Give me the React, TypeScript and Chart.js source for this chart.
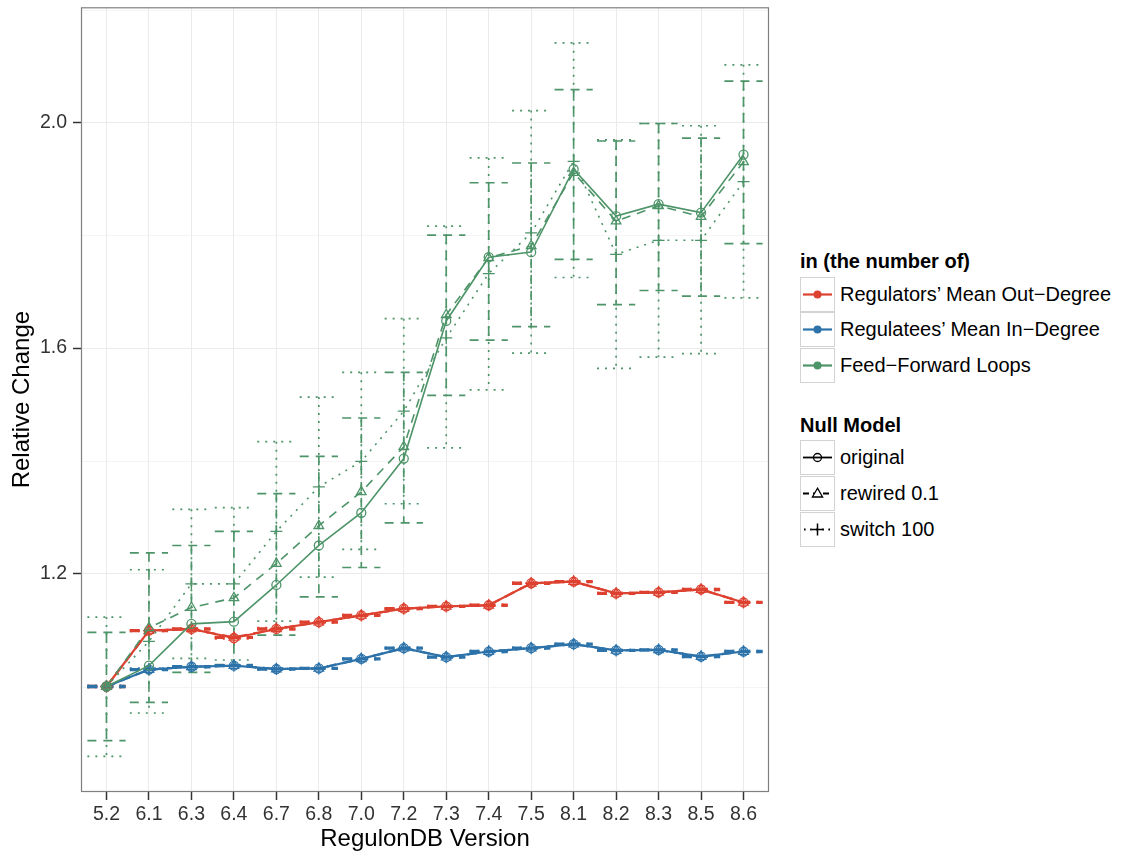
import React, { useEffect, useRef } from "react";
import { Chart, registerables } from "chart.js";

Chart.register(...registerables);

// ---------- data ----------
const versions = ["5.2", "6.1", "6.3", "6.4", "6.7", "6.8", "7.0", "7.2", "7.3", "7.4", "7.5", "8.1", "8.2", "8.3", "8.5", "8.6"];
const yMajorTicks = [1.2, 1.6, 2.0];
const yMinorTicks = [1.0, 1.4, 1.8, 2.2];

const regulatorsOriginal = [1.0, 1.099, 1.102, 1.086, 1.102, 1.114, 1.126, 1.138, 1.142, 1.144, 1.183, 1.186, 1.165, 1.167, 1.172, 1.149];
const regulatorsRewired = [1.0, 1.099, 1.102, 1.087, 1.102, 1.114, 1.126, 1.138, 1.142, 1.144, 1.183, 1.186, 1.165, 1.167, 1.172, 1.149];
const regulatorsSwitch = [1.0, 1.099, 1.102, 1.086, 1.103, 1.114, 1.126, 1.138, 1.142, 1.144, 1.183, 1.186, 1.165, 1.167, 1.172, 1.149];
const regulatorsRewiredErr = [0.001, 0.001, 0.001, 0.001, 0.001, 0.001, 0.001, 0.001, 0.001, 0.001, 0.001, 0.001, 0.001, 0.001, 0.001, 0.001];
const regulatorsSwitchErr = [0.001, 0.001, 0.001, 0.001, 0.001, 0.001, 0.001, 0.001, 0.001, 0.001, 0.001, 0.001, 0.001, 0.001, 0.001, 0.001];

const regulateesOriginal = [1.0, 1.030, 1.035, 1.037, 1.031, 1.032, 1.049, 1.068, 1.052, 1.062, 1.068, 1.075, 1.064, 1.065, 1.053, 1.062];
const regulateesRewired = [1.0, 1.030, 1.035, 1.037, 1.031, 1.032, 1.049, 1.068, 1.052, 1.062, 1.068, 1.075, 1.064, 1.065, 1.053, 1.062];
const regulateesSwitch = [1.0, 1.031, 1.035, 1.037, 1.031, 1.032, 1.049, 1.068, 1.052, 1.062, 1.068, 1.075, 1.064, 1.065, 1.053, 1.062];
const regulateesRewiredErr = [0.001, 0.001, 0.001, 0.001, 0.001, 0.001, 0.001, 0.001, 0.001, 0.001, 0.001, 0.001, 0.001, 0.001, 0.001, 0.001];
const regulateesSwitchErr = [0.001, 0.001, 0.001, 0.001, 0.001, 0.001, 0.001, 0.001, 0.001, 0.001, 0.001, 0.001, 0.001, 0.001, 0.001, 0.001];

const fflOriginal = [1.0, 1.037, 1.111, 1.115, 1.180, 1.250, 1.308, 1.404, 1.648, 1.761, 1.770, 1.917, 1.834, 1.855, 1.840, 1.943];
const fflRewired = [1.0, 1.104, 1.140, 1.157, 1.218, 1.285, 1.345, 1.425, 1.659, 1.760, 1.781, 1.911, 1.825, 1.852, 1.833, 1.930];
const fflSwitch = [1.0, 1.080, 1.182, 1.182, 1.275, 1.354, 1.399, 1.488, 1.618, 1.732, 1.804, 1.931, 1.766, 1.791, 1.791, 1.895];
const fflRewiredUpper = [1.096, 1.237, 1.250, 1.275, 1.342, 1.408, 1.476, 1.557, 1.800, 1.893, 1.928, 2.058, 1.967, 1.998, 1.972, 2.073];
const fflRewiredLower = [0.904, 0.972, 1.025, 1.039, 1.091, 1.159, 1.211, 1.290, 1.516, 1.614, 1.638, 1.757, 1.677, 1.702, 1.692, 1.785];
const fflSwitchUpper = [1.123, 1.207, 1.314, 1.317, 1.434, 1.513, 1.557, 1.652, 1.816, 1.937, 2.021, 2.141, 1.969, 1.998, 1.994, 2.102];
const fflSwitchLower = [0.876, 0.953, 1.050, 1.047, 1.116, 1.194, 1.243, 1.324, 1.423, 1.526, 1.591, 1.725, 1.564, 1.584, 1.590, 1.689];

const groupNames = ["Regulators’ Mean Out−Degree", "Regulatees’ Mean In−Degree", "Feed−Forward Loops"];
const modelNames = ["original", "rewired 0.1", "switch 100"];

// ---------- styles ----------
const RED = "#DD4130";
const BLUE = "#2D73AA";
const GREEN = "#4E9469";
const FONT = "'Liberation Sans', Arial, Helvetica, sans-serif";
const DASHED = [9, 7];
const DOTTED = [2, 6];

const modelStyles = [
  { dash: [] as number[], point: "circle", radius: 4.5 },
  { dash: DASHED, point: "triangle", radius: 5.5 },
  { dash: DOTTED, point: "cross", radius: 6 },
];

const toPoints = (arr: number[]) => arr.map((v, i) => ({ x: i, y: v }));

function makeDataset(values: number[], color: string, modelIdx: number, name: string, width: number) {
  const s = modelStyles[modelIdx];
  return {
    label: name,
    data: toPoints(values),
    borderColor: color,
    borderWidth: width,
    borderDash: s.dash,
    pointStyle: s.point,
    pointRadius: s.radius,
    pointBorderWidth: 1.3,
    pointBorderColor: color,
    pointBackgroundColor: "rgba(0,0,0,0)",
    tension: 0,
    fill: false,
  };
}

const errorBarPlugin = {
  id: "errorBarsAndFrame",
  beforeDraw(chart: any) {
    const { ctx, chartArea, scales } = chart;
    const y = scales.y;
    ctx.save();
    ctx.strokeStyle = "#F4F4F4";
    ctx.lineWidth = 1;
    yMinorTicks.forEach((v) => {
      const py = Math.round(y.getPixelForValue(v)) + 0.5;
      if (py < chartArea.top || py > chartArea.bottom) return;
      ctx.beginPath();
      ctx.moveTo(chartArea.left, py);
      ctx.lineTo(chartArea.right, py);
      ctx.stroke();
    });
    ctx.restore();
  },
  beforeDatasetsDraw(chart: any) {
    const { ctx, chartArea, scales } = chart;
    const x = scales.x;
    const y = scales.y;
    const half = 0.45;
    const bars = [
      { upper: fflRewiredUpper, lower: fflRewiredLower, color: GREEN, dash: DASHED, w: 1.7 },
      { upper: fflSwitchUpper, lower: fflSwitchLower, color: GREEN, dash: DOTTED, w: 1.7 },
      { upper: regulatorsRewired.map((v, i) => v + regulatorsRewiredErr[i]), lower: regulatorsRewired.map((v, i) => v - regulatorsRewiredErr[i]), color: RED, dash: DASHED, w: 2.2 },
      { upper: regulatorsSwitch.map((v, i) => v + regulatorsSwitchErr[i]), lower: regulatorsSwitch.map((v, i) => v - regulatorsSwitchErr[i]), color: RED, dash: DOTTED, w: 2.2 },
      { upper: regulateesRewired.map((v, i) => v + regulateesRewiredErr[i]), lower: regulateesRewired.map((v, i) => v - regulateesRewiredErr[i]), color: BLUE, dash: DASHED, w: 2.2 },
      { upper: regulateesSwitch.map((v, i) => v + regulateesSwitchErr[i]), lower: regulateesSwitch.map((v, i) => v - regulateesSwitchErr[i]), color: BLUE, dash: DOTTED, w: 2.2 },
    ];
    ctx.save();
    ctx.beginPath();
    ctx.rect(chartArea.left, chartArea.top, chartArea.width, chartArea.height);
    ctx.clip();
    ctx.lineCap = "butt";
    const seg = (x1: number, y1: number, x2: number, y2: number) => {
      ctx.beginPath();
      ctx.moveTo(x1, y1);
      ctx.lineTo(x2, y2);
      ctx.stroke();
    };
    bars.forEach((b) => {
      ctx.strokeStyle = b.color;
      ctx.lineWidth = b.w;
      ctx.setLineDash(b.dash);
      b.upper.forEach((u, i) => {
        const xc = x.getPixelForValue(i);
        const xl = x.getPixelForValue(i - half);
        const xr = x.getPixelForValue(i + half);
        const yt = y.getPixelForValue(u);
        const yb = y.getPixelForValue(b.lower[i]);
        seg(xl, yt, xr, yt);
        seg(xc, yt, xc, yb);
        seg(xl, yb, xr, yb);
      });
    });
    ctx.restore();
  },
  afterDraw(chart: any) {
    const { ctx, chartArea } = chart;
    ctx.save();
    ctx.strokeStyle = "#7F7F7F";
    ctx.lineWidth = 1.2;
    ctx.strokeRect(chartArea.left + 0.5, chartArea.top + 0.5, chartArea.width - 1, chartArea.height - 1);
    ctx.restore();
  },
};

function ChartCanvas() {
  const ref = useRef<HTMLCanvasElement | null>(null);
  useEffect(() => {
    if (!ref.current) return;
    const datasets = [
      makeDataset(fflOriginal, GREEN, 0, groupNames[2] + " / " + modelNames[0], 1.6),
      makeDataset(fflRewired, GREEN, 1, groupNames[2] + " / " + modelNames[1], 1.6),
      makeDataset(fflSwitch, GREEN, 2, groupNames[2] + " / " + modelNames[2], 1.6),
      makeDataset(regulatorsOriginal, RED, 0, groupNames[0] + " / " + modelNames[0], 2.2),
      makeDataset(regulatorsRewired, RED, 1, groupNames[0] + " / " + modelNames[1], 2.2),
      makeDataset(regulatorsSwitch, RED, 2, groupNames[0] + " / " + modelNames[2], 2.2),
      makeDataset(regulateesOriginal, BLUE, 0, groupNames[1] + " / " + modelNames[0], 2.2),
      makeDataset(regulateesRewired, BLUE, 1, groupNames[1] + " / " + modelNames[1], 2.2),
      makeDataset(regulateesSwitch, BLUE, 2, groupNames[1] + " / " + modelNames[2], 2.2),
    ];
    const chart = new Chart(ref.current, {
      type: "line",
      data: { datasets: datasets as any },
      plugins: [errorBarPlugin],
      options: {
        animation: false,
        responsive: false,
        maintainAspectRatio: false,
        layout: { padding: { top: 7, right: 11, left: 0, bottom: 0 } },
        plugins: { legend: { display: false }, tooltip: { enabled: false } },
        scales: {
          x: {
            type: "linear",
            min: -0.6,
            max: versions.length - 1 + 0.6,
            afterBuildTicks: (scale: any) => {
              scale.ticks = versions.map((_, i) => ({ value: i }));
            },
            afterFit: (scale: any) => {
              scale.height = 63;
            },
            ticks: {
              autoSkip: false,
              maxRotation: 0,
              padding: 3,
              color: "#333333",
              font: { family: FONT, size: 19.5 },
              callback: (v: any) => versions[Math.round(Number(v))] ?? "",
            },
            grid: { color: "#EBEBEB", lineWidth: 1, tickLength: 8, tickColor: "#333333", tickWidth: 1.5 },
            border: { display: false },
            title: {
              display: true,
              text: "RegulonDB Version",
              color: "#000",
              font: { family: FONT, size: 24 },
              padding: { top: 0, bottom: 1 },
            },
          },
          y: {
            type: "linear",
            min: 0.813,
            max: 2.204,
            afterBuildTicks: (scale: any) => {
              scale.ticks = yMajorTicks.map((v) => ({ value: v }));
            },
            afterFit: (scale: any) => {
              scale.width = 81;
              scale.paddingTop = 0;
              scale.paddingBottom = 0;
            },
            ticks: {
              padding: 6,
              color: "#333333",
              font: { family: FONT, size: 19.5 },
              callback: (v: any) => Number(v).toFixed(1),
            },
            grid: { color: "#EBEBEB", lineWidth: 1, tickLength: 8, tickColor: "#333333", tickWidth: 1.5 },
            border: { display: false },
            title: {
              display: true,
              text: "Relative Change",
              color: "#000",
              font: { family: FONT, size: 24 },
              padding: { top: 7.6, bottom: 0 },
            },
          },
        },
      } as any,
    });
    return () => chart.destroy();
  }, []);
  return <canvas ref={ref} width={780} height={855} style={{ position: "absolute", left: 0, top: 0, width: 780, height: 855 }} />;
}

function ColorKey({ color }: { color: string }) {
  return (
    <svg width={33} height={33} style={{ display: "block" }}>
      <line x1={2} y1={16.5} x2={31} y2={16.5} stroke={color} strokeWidth={2.2} />
      <circle cx={16.5} cy={16.5} r={4} fill={color} />
    </svg>
  );
}

function ModelKey({ idx }: { idx: number }) {
  const dash = idx === 0 ? undefined : idx === 1 ? "6,4" : "1.6,4.5";
  return (
    <svg width={33} height={33} style={{ display: "block" }}>
      <line x1={idx === 2 ? 3 : 2} y1={16.5} x2={31} y2={16.5} stroke="#000" strokeWidth={1.8} strokeDasharray={dash} />
      {idx === 0 && <circle cx={16.5} cy={16.5} r={4} fill="none" stroke="#000" strokeWidth={1.3} />}
      {idx === 1 && <polygon points="16.5,11.2 21.6,20 11.4,20" fill="#fff" stroke="#000" strokeWidth={1.3} />}
      {idx === 2 && (
        <g stroke="#000" strokeWidth={1.5}>
          <line x1={16.5} y1={10.5} x2={16.5} y2={22.5} />
          <line x1={10.5} y1={16.5} x2={22.5} y2={16.5} />
        </g>
      )}
    </svg>
  );
}

const keyBox: React.CSSProperties = {
  position: "absolute",
  left: 800,
  width: 35,
  height: 35,
  boxSizing: "border-box",
  border: "1px solid #D3D3D3",
  background: "#fff",
};

const legendText: React.CSSProperties = {
  position: "absolute",
  left: 840,
  height: 35,
  lineHeight: "35px",
  fontFamily: FONT,
  fontSize: 20,
  color: "#000",
  whiteSpace: "nowrap",
};

const legendTitle: React.CSSProperties = {
  position: "absolute",
  left: 800,
  fontFamily: FONT,
  fontSize: 20,
  fontWeight: "bold",
  lineHeight: "20px",
  color: "#000",
  whiteSpace: "nowrap",
};

export default function App() {
  const groupColors = [RED, BLUE, GREEN];
  return (
    <div style={{ position: "absolute", left: 0, top: 0, width: 1125, height: 855, background: "#fff", overflow: "hidden" }}>
      <ChartCanvas />
      <div style={{ ...legendTitle, top: 251 }}>in (the number of)</div>
      {groupNames.map((g, i) => (
        <React.Fragment key={g}>
          <div style={{ ...keyBox, top: 277 + i * 35.3 }}>
            <ColorKey color={groupColors[i]} />
          </div>
          <div style={{ ...legendText, top: 277 + i * 35.3 }}>{g}</div>
        </React.Fragment>
      ))}
      <div style={{ ...legendTitle, top: 415 }}>Null Model</div>
      {modelNames.map((m, i) => (
        <React.Fragment key={m}>
          <div style={{ ...keyBox, top: 440 + i * 36 }}>
            <ModelKey idx={i} />
          </div>
          <div style={{ ...legendText, top: 440 + i * 36 }}>{m}</div>
        </React.Fragment>
      ))}
    </div>
  );
}
